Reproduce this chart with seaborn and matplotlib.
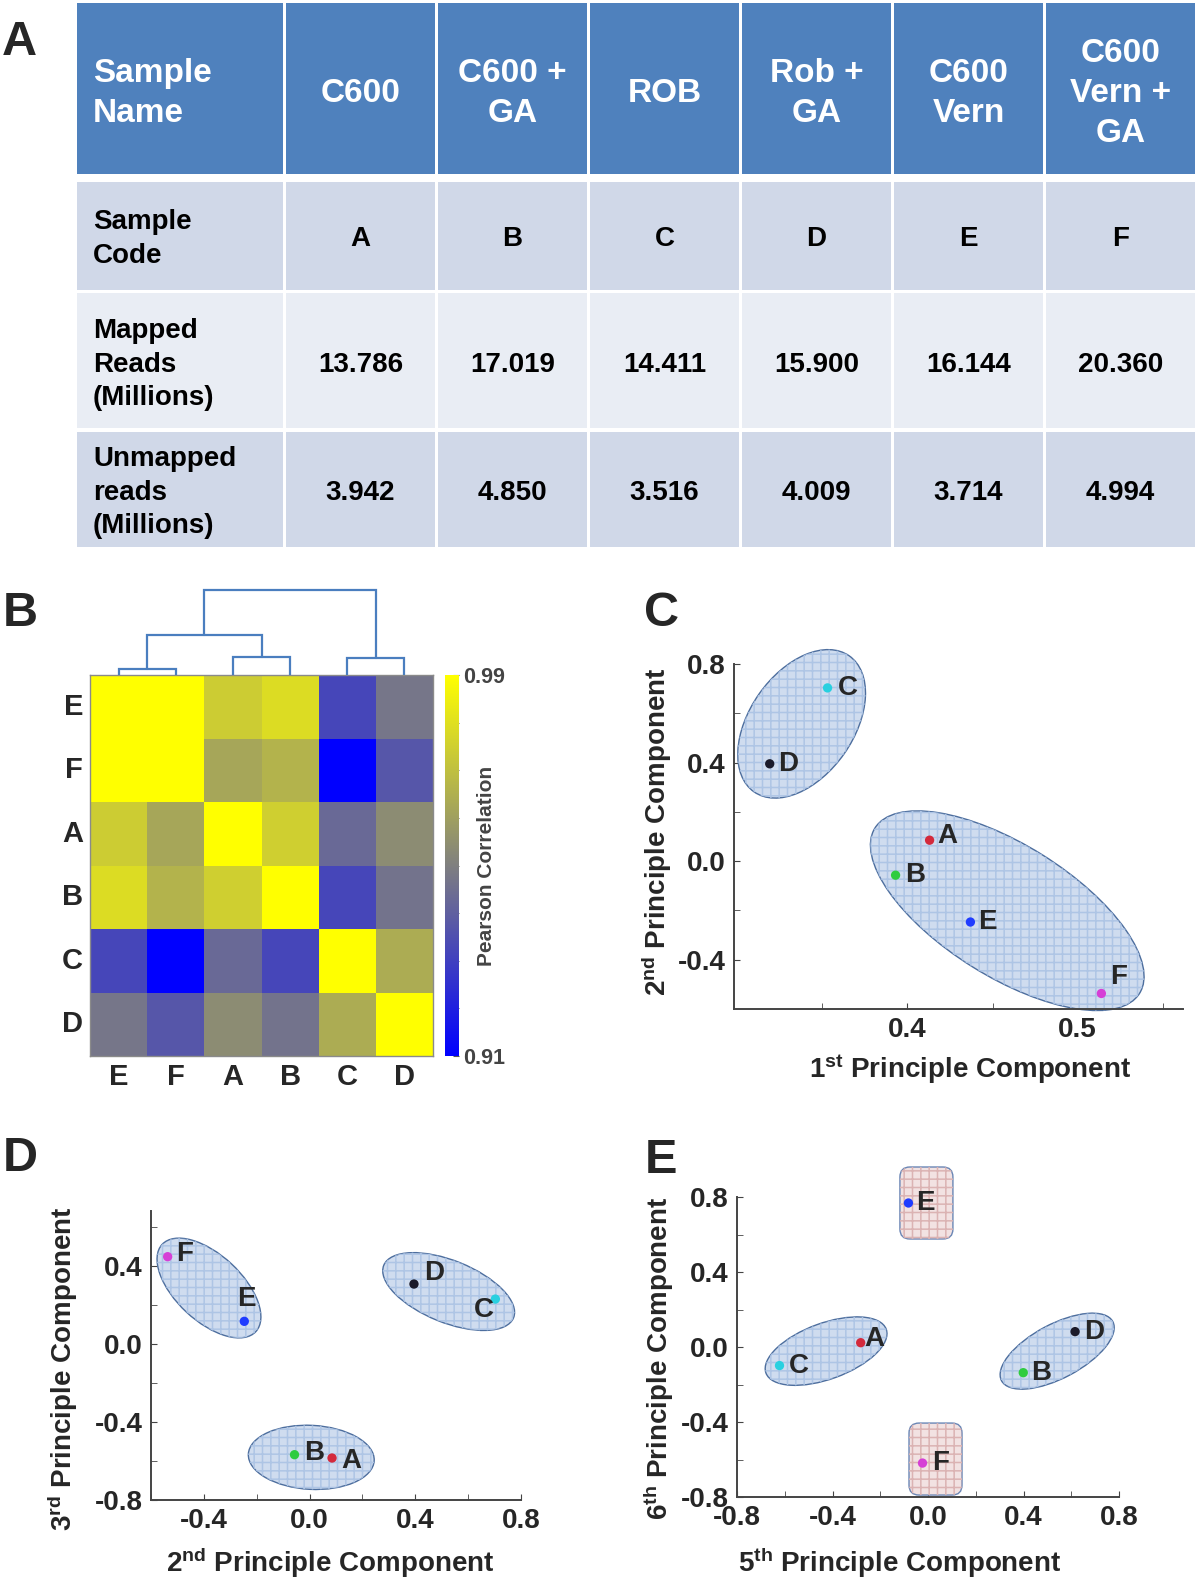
import numpy as np
import pandas as pd
import matplotlib
matplotlib.use("Agg")
import matplotlib.pyplot as plt
import seaborn as sns
from matplotlib.colors import LinearSegmentedColormap
from matplotlib.patches import Rectangle, Ellipse, FancyBboxPatch
from matplotlib.transforms import ScaledTranslation
from matplotlib.ticker import FormatStrFormatter

# ---------------- data ----------------
# panel A table
row_titles = ["Sample\nName", "Sample\nCode", "Mapped\nReads\n(Millions)", "Unmapped\nreads\n(Millions)"]
sample_names = ["C600", "C600 +\nGA", "ROB", "Rob +\nGA", "C600\nVern", "C600\nVern +\nGA"]
sample_codes = ["A", "B", "C", "D", "E", "F"]
mapped_reads = [13.786, 17.019, 14.411, 15.900, 16.144, 20.360]
unmapped_reads = [3.942, 4.850, 3.516, 4.009, 3.714, 4.994]

# panel B: pearson correlation, clustered order
heat_order = ["E", "F", "A", "B", "C", "D"]
corr_E = [0.990, 0.990, 0.974, 0.979, 0.932, 0.947]
corr_F = [0.990, 0.990, 0.962, 0.966, 0.910, 0.937]
corr_A = [0.974, 0.962, 0.990, 0.975, 0.943, 0.954]
corr_B = [0.979, 0.966, 0.975, 0.990, 0.932, 0.946]
corr_C = [0.932, 0.910, 0.943, 0.932, 0.990, 0.964]
corr_D = [0.947, 0.937, 0.954, 0.946, 0.964, 0.990]
# dendrogram merges (left, right, height)
dendro_merges = [("E", "F", 0.07), ("A", "B", 0.20), ("C", "D", 0.19),
                 ("EF", "AB", 0.45), ("EFAB", "CD", 0.97)]

# panels C-E: principal components
pc_codes = ["A", "B", "C", "D", "E", "F"]
pc1 = [0.413, 0.393, 0.353, 0.319, 0.437, 0.514]
pc2 = [0.085, -0.057, 0.703, 0.395, -0.247, -0.537]
pc3 = [-0.585, -0.568, 0.229, 0.306, 0.115, 0.446]
pc5 = [-0.282, 0.399, -0.622, 0.616, -0.082, -0.023]
pc6 = [0.023, -0.137, -0.099, 0.082, 0.768, -0.619]

groups_c = [["C", "D"], ["A", "B", "E", "F"]]
groups_d = [["F", "E"], ["D", "C"], ["B", "A"]]
groups_e = [["C", "A"], ["B", "D"], ["E"], ["F"]]

# ---------------- style ----------------
sns.set_style("white")
plt.rcParams["font.family"] = ["Liberation Sans", "DejaVu Sans"]
plt.rcParams["font.weight"] = "bold"
plt.rcParams["axes.labelweight"] = "bold"
plt.rcParams["axes.unicode_minus"] = False
plt.rcParams["mathtext.fontset"] = "custom"
plt.rcParams["mathtext.bf"] = "Liberation Sans:bold"
plt.rcParams["mathtext.rm"] = "Liberation Sans:bold"
plt.rcParams["mathtext.default"] = "bf"
plt.rcParams["hatch.linewidth"] = 1.1

pt_colors = {"A": "#d42a3c", "B": "#2ecc40", "C": "#29d0e0",
             "D": "#1a1a2a", "E": "#1f3cff", "F": "#d63fd6"}

W, H = 1200, 1580
fig = plt.figure(figsize=(W / 100, H / 100), dpi=100)


def px_axes(x0, y0, x1, y1):
    return fig.add_axes([x0 / W, 1 - y1 / H, (x1 - x0) / W, (y1 - y0) / H])


# ---------------- panel A: table ----------------
ax_t = px_axes(0, 0, W, 560)
ax_t.set_xlim(0, W)
ax_t.set_ylim(560, 0)
ax_t.axis("off")

col_w = [206] + [149] * 6
row_h = [171, 108, 135, 115]
row_gap = [0, 8, 3, 4]
row_fill = ["#4f81bd", "#d0d8e8", "#e9edf4", "#d0d8e8"]
text_shift = [5, 3, 4, 3]
table_rows = [sample_names, sample_codes,
              [f"{v:.3f}" for v in mapped_reads],
              [f"{v:.3f}" for v in unmapped_reads]]

y = 3
for r, cells in enumerate(table_rows):
    y += row_gap[r]
    x = 77
    tcolor = "white" if r == 0 else "black"
    fs = 24 if r == 0 else 20
    ty = y + row_h[r] / 2 + text_shift[r]
    for c in range(7):
        ax_t.add_patch(Rectangle((x, y), col_w[c], row_h[r], color=row_fill[r], lw=0))
        if c == 0:
            ax_t.text(x + 16, ty, row_titles[r], ha="left", va="center",
                      color=tcolor, fontsize=fs, linespacing=1.36)
        else:
            ax_t.text(x + col_w[c] / 2, ty, cells[c - 1], ha="center",
                      va="center", color=tcolor, fontsize=fs, linespacing=1.36)
        x += col_w[c] + 3
    y += row_h[r]

# ---------------- panel B: heatmap ----------------
corr = pd.DataFrame([corr_E, corr_F, corr_A, corr_B, corr_C, corr_D],
                    index=heat_order, columns=heat_order)
cmap = LinearSegmentedColormap.from_list("by", ["#0000ff", "#ffff00"])
ax_h = px_axes(90, 675, 433, 1056)
ax_cb = px_axes(445, 675, 459, 1056)
ax_dn = px_axes(90, 587, 433, 675)

sns.heatmap(corr, cmap=cmap, vmin=0.91, vmax=0.99, ax=ax_h, cbar_ax=ax_cb, linewidths=0)
ax_h.tick_params(length=0, labelsize=21, pad=5)
ax_h.set_yticklabels(heat_order, rotation=0, fontweight="bold")
ax_h.set_xticklabels(heat_order, rotation=0, fontweight="bold")
for s in ax_h.spines.values():
    s.set_visible(True)
    s.set_color("#8a8a8a")
    s.set_linewidth(1)

cb = ax_h.collections[0].colorbar
cb.set_ticks([0.91, 0.99])
cb.ax.set_yticks(np.arange(0.92, 0.985, 0.01), minor=True)
cb.ax.tick_params(which="both", direction="in", length=4, color="#555",
                  labelsize=15.5, labelcolor="#444", pad=3)
cb.outline.set_edgecolor("#999")
cb.ax.text(2.95, 0.5, "Pearson Correlation", transform=cb.ax.transAxes, rotation=90,
           ha="center", va="center", fontsize=15, color="#444")

# dendrogram
pos = {k: i + 0.5 for i, k in enumerate(heat_order)}
hgt = {k: 0.0 for k in heat_order}
for left, right, h in dendro_merges:
    ax_dn.plot([pos[left], pos[left], pos[right], pos[right]],
               [hgt[left], h, h, hgt[right]], color="#4a7ebf", lw=1.6,
               solid_joinstyle="miter")
    pos[left + right] = (pos[left] + pos[right]) / 2
    hgt[left + right] = h
ax_dn.set_xlim(0, len(heat_order))
ax_dn.set_ylim(0, 1)
ax_dn.axis("off")


# ---------------- panels C-E: PCA scatter ----------------
def add_shape(ax, cx, cy, spec):
    dx, dy, w, h, ang, kind = spec
    trans = fig.dpi_scale_trans + ScaledTranslation(cx, cy, ax.transData) + \
        ScaledTranslation(dx / 100, dy / 100, fig.dpi_scale_trans)
    w, h = w / 100, h / 100
    if kind == "ell":
        face, hatch_c, edge = "#cfdcef", "#aec5e5", "#4d6e9e"
        base = Ellipse((0, 0), w, h, angle=ang, transform=trans, fc=face, ec=edge,
                       lw=1.0, clip_on=False, zorder=1)
        over = Ellipse((0, 0), w, h, angle=ang, transform=trans, fc="none",
                       ec=hatch_c, lw=0, hatch="++", clip_on=False, zorder=2)
    else:
        face, hatch_c, edge = "#f2e2e2", "#dbb3b3", "#6a86b5"
        style = "round,pad=0,rounding_size=0.1"
        base = FancyBboxPatch((-w / 2, -h / 2), w, h, boxstyle=style, transform=trans,
                              fc=face, ec=edge, lw=1.0, clip_on=False, zorder=1)
        over = FancyBboxPatch((-w / 2, -h / 2), w, h, boxstyle=style, transform=trans,
                              fc="none", ec=hatch_c, lw=0, hatch="++", clip_on=False,
                              zorder=2)
    ax.add_patch(base)
    ax.add_patch(over)


def pca_panel(rect, xs, ys, groups, shapes, offsets, xlim, ylim,
              xmaj, xmin, ymaj, ymin, xlabel, ylabel, xl_coords, yl_coords):
    ax = px_axes(*rect)
    df = pd.DataFrame({"code": pc_codes, "x": xs, "y": ys})
    ax.set_xlim(*xlim)
    ax.set_ylim(*ylim)
    for grp, spec in zip(groups, shapes):
        sub = df[df.code.isin(grp)]
        add_shape(ax, sub.x.mean(), sub.y.mean(), spec)
    sns.scatterplot(data=df, x="x", y="y", hue="code", palette=pt_colors, s=45,
                    edgecolor="none", legend=False, ax=ax, zorder=5, clip_on=False)
    for code, xv, yv in zip(pc_codes, xs, ys):
        ox, oy, ha = offsets[code]
        ax.annotate(code, (xv, yv), xytext=(ox * 0.72, oy * 0.72),
                    textcoords="offset points", ha=ha, va="center", fontsize=20,
                    zorder=6, annotation_clip=False)
    ax.set_xticks(xmaj)
    ax.set_xticks(xmin, minor=True)
    ax.set_yticks(ymaj)
    ax.set_yticks(ymin, minor=True)
    ax.xaxis.set_major_formatter(FormatStrFormatter("%.1f"))
    ax.yaxis.set_major_formatter(FormatStrFormatter("%.1f"))
    ax.tick_params(which="both", direction="in", length=4, color="#444",
                   labelsize=20, pad=6, bottom=True, left=True)
    for side in ["top", "right"]:
        ax.spines[side].set_visible(False)
    for side in ["left", "bottom"]:
        ax.spines[side].set_color("#444")
        ax.spines[side].set_linewidth(1.4)
    ax.set_xlabel(xlabel, fontsize=20, va="center", fontweight="bold")
    ax.set_ylabel(ylabel, fontsize=20, va="center", fontweight="bold")
    ax.xaxis.set_label_coords(*xl_coords)
    ax.yaxis.set_label_coords(*yl_coords)
    return ax


# shape specs: (dx px, dy px, width px, height px, angle, kind)
pca_panel((734, 664, 1183, 1009), pc1, pc2, groups_c,
          [(3, 2, 166, 104, 55, "ell"), (33, -3, 312, 132, -32, "ell")],
          {"A": (8, 4, "left"), "B": (10, 0, "left"), "C": (10, 0, "left"),
           "D": (8, 0, "left"), "E": (8, 0, "left"), "F": (9, 16, "left")},
          (0.298, 0.562), (-0.6, 0.8), [0.4, 0.5], [0.35, 0.45, 0.55],
          [-0.4, 0.0, 0.4, 0.8], [-0.2, 0.2, 0.6],
          "1$^{st}$ Principle Component", "2$^{nd}$ Principle Component",
          (0.526, -0.174), (-0.171, 0.513))

pca_panel((151, 1211, 521, 1500), pc2, pc3, groups_d,
          [(3, 1, 128, 66, -43, "ell"), (-6, 0, 140, 62, -22, "ell"),
           (-2, -1, 126, 64, -3, "ell")],
          {"A": (9, -3, "left"), "B": (10, 2, "left"), "C": (-1, -11, "right"),
           "D": (10, 11, "left"), "E": (2, 22, "center"), "F": (8, 3, "left")},
          (-0.6, 0.8), (-0.8, 0.68), [-0.4, 0.0, 0.4, 0.8], [-0.6, -0.2, 0.2, 0.6],
          [-0.8, -0.4, 0.0, 0.4], [-0.6, -0.2, 0.2, 0.6],
          "2$^{nd}$ Principle Component", "3$^{rd}$ Principle Component",
          (0.484, -0.218), (-0.239, 0.453))

pca_panel((737, 1197, 1119, 1497), pc5, pc6, groups_e,
          [(6, 3, 128, 56, 20, "ell"), (8, 1, 126, 54, 28, "ell"),
           (18, 0, 53, 72, 0, "box"), (13, 4, 53, 72, 0, "box")],
          {"A": (4, 4, "left"), "B": (8, 0, "left"), "C": (9, 0, "left"),
           "D": (9, 0, "left"), "E": (8, 0, "left"), "F": (10, 0, "left")},
          (-0.8, 0.8), (-0.8, 0.8), [-0.8, -0.4, 0.0, 0.4, 0.8], [-0.6, -0.2, 0.2, 0.6],
          [-0.8, -0.4, 0.0, 0.4, 0.8], [-0.6, -0.2, 0.2, 0.6],
          "5$^{th}$ Principle Component", "6$^{th}$ Principle Component",
          (0.427, -0.22), (-0.204, 0.463))

# panel letters
for letter, (lx, ly) in {"A": (2, 55), "B": (3, 626), "C": (644, 626),
                         "D": (3, 1171), "E": (645, 1173)}.items():
    fig.text(lx / W, 1 - ly / H, letter, fontsize=35, ha="left", va="baseline")

fig.savefig("out.png", dpi=100)
